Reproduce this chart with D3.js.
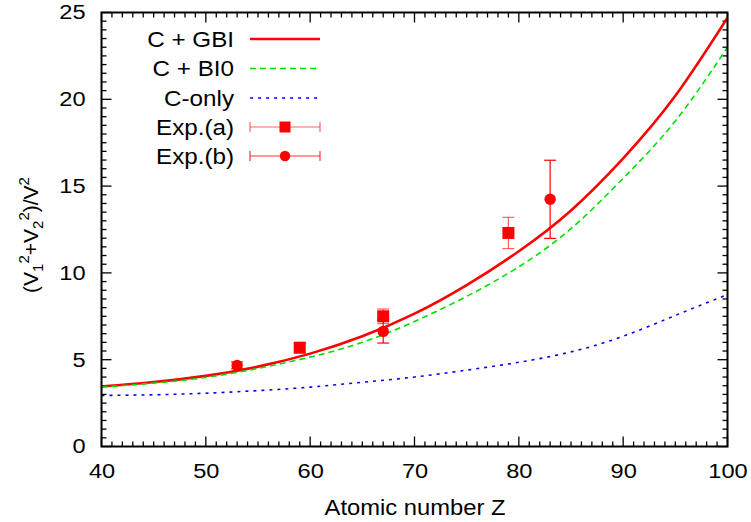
<!DOCTYPE html>
<html>
<head>
<meta charset="utf-8">
<script src="https://cdn.jsdelivr.net/npm/d3@7"></script>
<style>
  html, body { margin: 0; padding: 0; background: #fff; }
  svg { display: block; font-family: "Liberation Sans", Arial, Helvetica, sans-serif; }
</style>
</head>
<body>
<svg id="chart" width="751" height="522"></svg>
<script>
// Atomic number grid for the theory curves
const zGrid = [40, 45, 50, 55, 60, 65, 70, 75, 80, 85, 90, 95, 100];
// (V1^2 + V2^2)/V^2 for each model
const gbiValues   = [3.46, 3.72, 4.07, 4.60, 5.35, 6.35, 7.65, 9.30, 11.25, 13.60, 16.60, 20.20, 24.70];
const bi0Values   = [3.42, 3.65, 3.98, 4.50, 5.15, 6.00, 7.20, 8.65, 10.35, 12.55, 15.45, 18.75, 23.00];
const cOnlyValues = [2.94, 2.98, 3.07, 3.22, 3.42, 3.70, 4.00, 4.40, 4.85, 5.45, 6.35, 7.55, 8.75];

// Measurements
const expAZ = [59, 67, 79];
const expAValues = [5.69, 7.5, 12.3];
const expAErrors = [0.25, 0.42, 0.9];
const expBZ = [53, 67, 83];
const expBValues = [4.67, 6.63, 14.24];
const expBErrors = [0.2, 0.67, 2.25];

// Axis ticks
const xTicks = [40, 50, 60, 70, 80, 90, 100];
const yTicks = [0, 5, 10, 15, 20, 25];

const svg = d3.select("#chart");
const plotL = 101.5, plotR = 727.5, plotT = 12.5, plotB = 446.5;

const x = d3.scaleLinear().domain([40, 100]).range([plotL, plotR]);
const y = d3.scaleLinear().domain([0, 25]).range([plotB, plotT]);

// Widen glyphs horizontally (the lettering is a little broader than the font)
function widen(sel, k) {
  sel.each(function () {
    const w = this.getComputedTextLength();
    d3.select(this).attr("textLength", w * k).attr("lengthAdjust", "spacingAndGlyphs");
  });
}

svg.append("defs").append("clipPath").attr("id", "plot-clip")
  .append("rect").attr("x", plotL).attr("y", plotT)
  .attr("width", plotR - plotL).attr("height", plotB - plotT);

// Ticks on all four sides, pointing inward
const frame = svg.append("g").attr("stroke", "#000");
const xMinor = d3.range(40, 100.01, 1);
const yMinor = d3.range(0, 25.01, 0.5);
xMinor.forEach(v => {
  const len = xTicks.includes(v) ? 10 : 5;
  frame.append("line").attr("x1", x(v)).attr("x2", x(v)).attr("y1", plotB).attr("y2", plotB - len).attr("stroke-width", 1.3);
  frame.append("line").attr("x1", x(v)).attr("x2", x(v)).attr("y1", plotT).attr("y2", plotT + len).attr("stroke-width", 1.3);
});
yMinor.forEach(v => {
  const len = yTicks.includes(v) ? 10 : 5;
  frame.append("line").attr("y1", y(v)).attr("y2", y(v)).attr("x1", plotL).attr("x2", plotL + len).attr("stroke-width", 1.3);
  frame.append("line").attr("y1", y(v)).attr("y2", y(v)).attr("x1", plotR).attr("x2", plotR - len).attr("stroke-width", 1.3);
});

// Tick labels through the D3 axis generators
const tickFont = 20;
const xAxis = svg.append("g").attr("transform", `translate(0,${plotB})`)
  .call(d3.axisBottom(x).tickValues(xTicks).tickSize(0).tickPadding(17));
xAxis.select(".domain").remove();
xAxis.selectAll("text").attr("font-size", tickFont).attr("font-family", "Liberation Sans, Arial, sans-serif").attr("fill", "#000");
widen(xAxis.selectAll("text"), 1.18);

const yAxis = svg.append("g").attr("transform", `translate(${plotL},0)`)
  .call(d3.axisLeft(y).tickValues(yTicks).tickSize(0).tickPadding(16));
yAxis.select(".domain").remove();
yAxis.selectAll("text").attr("font-size", tickFont).attr("font-family", "Liberation Sans, Arial, sans-serif").attr("fill", "#000");
widen(yAxis.selectAll("text"), 1.18);

// Theory curves
const plot = svg.append("g").attr("clip-path", "url(#plot-clip)");
const line = d3.line().x(d => x(d[0])).y(d => y(d[1])).curve(d3.curveNatural);

const series = [
  { name: "C + GBI", values: gbiValues,   color: "#ff0000", width: 2.6, dash: null },
  { name: "C + BI0", values: bi0Values,   color: "#00e000", width: 1.6, dash: "6,4" },
  { name: "C-only",  values: cOnlyValues, color: "#0000ff", width: 1.6, dash: "3,5" }
];
series.forEach(s => {
  plot.append("path")
    .attr("d", line(zGrid.map((z, i) => [z, s.values[i]])))
    .attr("fill", "none").attr("stroke", s.color)
    .attr("stroke-width", s.width)
    .attr("stroke-dasharray", s.dash);
});

// Error bars and markers
const cap = 6;
function errorBars(zs, vs, es, opacity) {
  const g = svg.append("g").attr("stroke", "#ff0000").attr("stroke-width", 1.2).attr("stroke-opacity", opacity);
  zs.forEach((z, i) => {
    const y0 = y(vs[i] - es[i]), y1 = y(vs[i] + es[i]);
    g.append("line").attr("x1", x(z)).attr("x2", x(z)).attr("y1", y0).attr("y2", y1);
    g.append("line").attr("x1", x(z) - cap).attr("x2", x(z) + cap).attr("y1", y0).attr("y2", y0);
    g.append("line").attr("x1", x(z) - cap).attr("x2", x(z) + cap).attr("y1", y1).attr("y2", y1);
  });
}
errorBars(expBZ, expBValues, expBErrors, 1);
errorBars(expAZ, expAValues, expAErrors, 0.6);

const sq = 12;
svg.append("g").selectAll("rect").data(expAZ).join("rect")
  .attr("x", (z) => x(z) - sq / 2)
  .attr("y", (z, i) => y(expAValues[i]) - sq / 2)
  .attr("width", sq).attr("height", sq).attr("fill", "#ff0000");
svg.append("g").selectAll("circle").data(expBZ).join("circle")
  .attr("cx", z => x(z))
  .attr("cy", (z, i) => y(expBValues[i]))
  .attr("r", 5.7).attr("fill", "#ff0000");

// Plot frame
svg.append("rect").attr("x", plotL).attr("y", plotT)
  .attr("width", plotR - plotL).attr("height", plotB - plotT)
  .attr("fill", "none").attr("stroke", "#000").attr("stroke-width", 2);

// Legend
const legend = svg.append("g").attr("font-size", 22);
const legendRows = [39, 68.5, 98, 127, 156];
const textRight = 234, sampleL = 250, sampleR = 320, sampleMid = 285;
series.forEach((s, i) => {
  const ly = legendRows[i];
  legend.append("text").attr("x", textRight).attr("y", ly).attr("dy", "0.35em")
    .attr("text-anchor", "end").text(s.name);
  legend.append("line").attr("x1", sampleL).attr("x2", sampleR).attr("y1", ly).attr("y2", ly)
    .attr("stroke", s.color).attr("stroke-width", s.width).attr("stroke-dasharray", s.dash);
});
[["Exp.(a)", "square", 0.6], ["Exp.(b)", "circle", 0.8]].forEach(([label, shape, op], k) => {
  const ly = legendRows[3 + k];
  legend.append("text").attr("x", textRight).attr("y", ly).attr("dy", "0.35em")
    .attr("text-anchor", "end").text(label);
  const g = legend.append("g").attr("stroke", "#ff0000").attr("stroke-width", 1.2).attr("stroke-opacity", op);
  g.append("line").attr("x1", sampleL).attr("x2", sampleR).attr("y1", ly).attr("y2", ly);
  g.append("line").attr("x1", sampleL).attr("x2", sampleL).attr("y1", ly - 5).attr("y2", ly + 5);
  g.append("line").attr("x1", sampleR).attr("x2", sampleR).attr("y1", ly - 5).attr("y2", ly + 5);
  if (shape === "square") {
    legend.append("rect").attr("x", sampleMid - 5.5).attr("y", ly - 5.5).attr("width", 11).attr("height", 11).attr("fill", "#ff0000");
  } else {
    legend.append("circle").attr("cx", sampleMid).attr("cy", ly).attr("r", 5.2).attr("fill", "#ff0000");
  }
});
widen(legend.selectAll("text"), 1.1);

// Axis titles
const xTitle = svg.append("text").attr("x", 415).attr("y", 515)
  .attr("text-anchor", "middle").attr("font-size", 22).text("Atomic number Z");
widen(xTitle, 1.08);

const yTitle = svg.append("text")
  .attr("transform", "translate(38,235) rotate(-90)")
  .attr("text-anchor", "middle").attr("font-size", 21);
const sub = 15;
yTitle.append("tspan").text("(V");
yTitle.append("tspan").attr("font-size", sub).attr("dy", 5).text("1");
yTitle.append("tspan").attr("font-size", sub).attr("dy", -14).text("2");
yTitle.append("tspan").attr("dy", 9).text("+V");
yTitle.append("tspan").attr("font-size", sub).attr("dy", 5).text("2");
yTitle.append("tspan").attr("font-size", sub).attr("dy", -14).text("2");
yTitle.append("tspan").attr("dy", 9).text(")/V");
yTitle.append("tspan").attr("font-size", sub).attr("dy", -9).text("2");
</script>
</body>
</html>
